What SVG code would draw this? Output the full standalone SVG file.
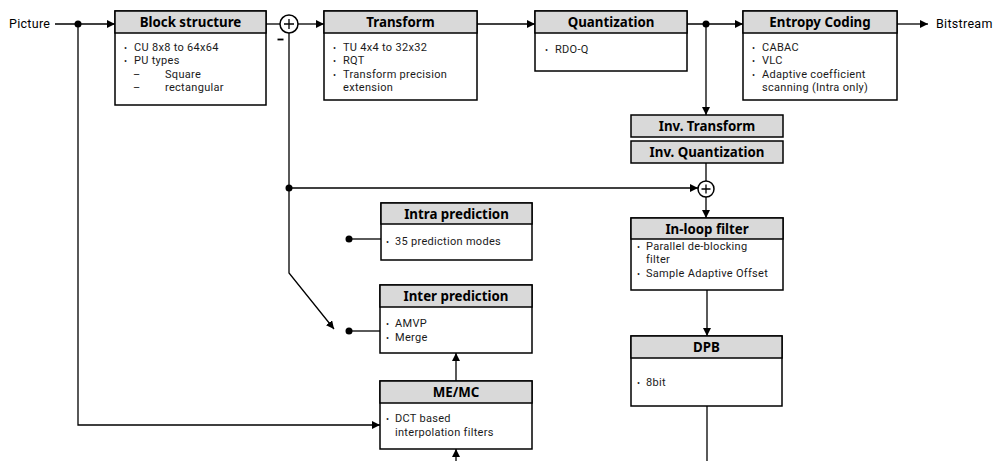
<svg xmlns="http://www.w3.org/2000/svg" width="997" height="461" viewBox="0 0 997 461">
<style>
.box{fill:#fff;stroke:#000;stroke-width:1.5}
.hd{fill:#d9d9d9;stroke:#000;stroke-width:1.5}
.ht{font-family:"Noto Sans","Noto Sans CJK KR",sans-serif;font-weight:bold;font-size:13.3px;text-anchor:middle;fill:#000}
.bt{font-family:Roboto,"Noto Sans CJK KR",sans-serif;font-size:11px;letter-spacing:0.3px;fill:#1a1a1a}
.bu{font-family:Roboto,sans-serif;font-size:9px;fill:#1a1a1a}
.lb{font-family:Roboto,"Noto Sans CJK KR",sans-serif;font-size:12.5px;letter-spacing:0.3px;fill:#000}
.ln{fill:none;stroke:#000;stroke-width:1.3}
.dot{fill:#000}
.sum{fill:#fff;stroke:#000;stroke-width:1.5}
</style>
<defs>
<marker id="ar" viewBox="0 0 10 10" refX="10" refY="5" markerWidth="8" markerHeight="8" markerUnits="userSpaceOnUse" orient="auto">
<path d="M0,0 L10,5 L0,10 z" fill="#000"/>
</marker>
</defs>
<g id="connectors">
<text class="lb" x="9" y="28">Picture</text>
<line class="ln" x1="55" y1="24" x2="115" y2="24" marker-end="url(#ar)"/>
<circle class="dot" cx="78" cy="24" r="3.5"/>
<polyline class="ln" points="78,24 78,425 380,425" marker-end="url(#ar)"/>
<line class="ln" x1="266" y1="24" x2="280" y2="24"/>
<line class="ln" x1="298" y1="24" x2="324" y2="24" marker-end="url(#ar)"/>
<line class="ln" x1="477" y1="24" x2="535" y2="24" marker-end="url(#ar)"/>
<line class="ln" x1="687" y1="24" x2="743" y2="24" marker-end="url(#ar)"/>
<circle class="dot" cx="706" cy="24" r="3.5"/>
<line class="ln" x1="897" y1="24" x2="928" y2="24" marker-end="url(#ar)"/>
<text class="lb" x="936" y="28">Bitstream</text>
<line class="ln" x1="706" y1="24" x2="706" y2="115" marker-end="url(#ar)"/>
<line class="ln" x1="706" y1="163" x2="706" y2="181"/>
<line class="ln" x1="706" y1="197" x2="706" y2="218" marker-end="url(#ar)"/>
<line class="ln" x1="289" y1="188" x2="698" y2="188" marker-end="url(#ar)"/>
<circle class="dot" cx="289" cy="188" r="3.5"/>
<polyline class="ln" points="289,33 289,273 334,329" marker-end="url(#ar)"/>
<circle class="dot" cx="349" cy="239" r="3.5"/>
<line class="ln" x1="349" y1="239" x2="381" y2="239"/>
<circle class="dot" cx="349" cy="331" r="3.5"/>
<line class="ln" x1="349" y1="331" x2="380" y2="331"/>
<line class="ln" x1="456" y1="381" x2="456" y2="353" marker-end="url(#ar)"/>
<line class="ln" x1="456" y1="461" x2="456" y2="449" marker-end="url(#ar)"/>
<line class="ln" x1="707" y1="290" x2="707" y2="336" marker-end="url(#ar)"/>
<line class="ln" x1="707" y1="406" x2="707" y2="461"/>
</g>
<g id="sum1">
<circle class="sum" cx="289" cy="24" r="9"/>
<path class="ln" d="M284,24 H294 M289,19 V29"/>
<line x1="277.5" y1="39.5" x2="283.5" y2="39.5" stroke="#000" stroke-width="1.8"/>
</g>
<g id="sum2">
<circle class="sum" cx="706" cy="189" r="8"/>
<path class="ln" d="M701.5,189 H710.5 M706,184.5 V193.5"/>
</g>
<g id="block-structure">
<rect class="box" x="115" y="11" width="151" height="94"/>
<rect class="hd" x="115" y="11" width="151" height="22"/>
<text class="ht" x="190.5" y="27">Block structure</text>
<text class="bu" x="124" y="51">•</text><text class="bt" x="134" y="51">CU 8x8 to 64x64</text>
<text class="bu" x="124" y="64">•</text><text class="bt" x="134" y="64">PU types</text>
<text class="bt" x="133" y="78">–</text><text class="bt" x="165" y="78">Square</text>
<text class="bt" x="133" y="91">–</text><text class="bt" x="165" y="91">rectangular</text>
</g>
<g id="transform">
<rect class="box" x="324" y="11" width="153" height="89"/>
<rect class="hd" x="324" y="11" width="153" height="22"/>
<text class="ht" x="400.5" y="27">Transform</text>
<text class="bu" x="333" y="51">•</text><text class="bt" x="343" y="51">TU 4x4 to 32x32</text>
<text class="bu" x="333" y="64">•</text><text class="bt" x="343" y="64">RQT</text>
<text class="bu" x="333" y="78">•</text><text class="bt" x="343" y="78">Transform precision</text>
<text class="bt" x="343" y="91">extension</text>
</g>
<g id="quantization">
<rect class="box" x="535" y="11" width="152" height="60"/>
<rect class="hd" x="535" y="11" width="152" height="22"/>
<text class="ht" x="611" y="27">Quantization</text>
<text class="bu" x="545" y="53">•</text><text class="bt" x="555" y="53">RDO-Q</text>
</g>
<g id="entropy-coding">
<rect class="box" x="743" y="11" width="154" height="89"/>
<rect class="hd" x="743" y="11" width="154" height="22"/>
<text class="ht" x="820" y="27">Entropy Coding</text>
<text class="bu" x="752" y="51">•</text><text class="bt" x="762" y="51">CABAC</text>
<text class="bu" x="752" y="64">•</text><text class="bt" x="762" y="64">VLC</text>
<text class="bu" x="752" y="78">•</text><text class="bt" x="762" y="78">Adaptive coefficient</text>
<text class="bt" x="762" y="91">scanning (Intra only)</text>
</g>
<g id="inv-transform">
<rect class="hd" x="631" y="115" width="152" height="22"/>
<text class="ht" x="707" y="131">Inv. Transform</text>
</g>
<g id="inv-quantization">
<rect class="hd" x="631" y="141" width="152" height="22"/>
<text class="ht" x="707" y="157">Inv. Quantization</text>
</g>
<g id="intra-prediction">
<rect class="box" x="381" y="203" width="151" height="57"/>
<rect class="hd" x="381" y="203" width="151" height="21"/>
<text class="ht" x="456.5" y="218.5">Intra prediction</text>
<text class="bu" x="386" y="245">•</text><text class="bt" x="395" y="245">35 prediction modes</text>
</g>
<g id="in-loop-filter">
<rect class="box" x="631" y="218" width="152" height="72"/>
<rect class="hd" x="631" y="218" width="152" height="21"/>
<text class="ht" x="707" y="233.5">In-loop filter</text>
<text class="bu" x="637" y="250">•</text><text class="bt" x="646" y="250">Parallel de-blocking</text>
<text class="bt" x="646" y="263">filter</text>
<text class="bu" x="637" y="277">•</text><text class="bt" x="646" y="277">Sample Adaptive Offset</text>
</g>
<g id="inter-prediction">
<rect class="box" x="380" y="285" width="152" height="68"/>
<rect class="hd" x="380" y="285" width="152" height="22"/>
<text class="ht" x="456" y="301">Inter prediction</text>
<text class="bu" x="386" y="327">•</text><text class="bt" x="395" y="327">AMVP</text>
<text class="bu" x="386" y="341">•</text><text class="bt" x="395" y="341">Merge</text>
</g>
<g id="me-mc">
<rect class="box" x="380" y="381" width="152" height="68"/>
<rect class="hd" x="380" y="381" width="152" height="22"/>
<text class="ht" x="456" y="397">ME/MC</text>
<text class="bu" x="386" y="422">•</text><text class="bt" x="395" y="422">DCT based</text>
<text class="bt" x="395" y="436">interpolation filters</text>
</g>
<g id="dpb">
<rect class="box" x="631" y="336" width="151" height="70"/>
<rect class="hd" x="631" y="336" width="151" height="22"/>
<text class="ht" x="706.5" y="352">DPB</text>
<text class="bu" x="637" y="386">•</text><text class="bt" x="646" y="386">8bit</text>
</g>
</svg>
